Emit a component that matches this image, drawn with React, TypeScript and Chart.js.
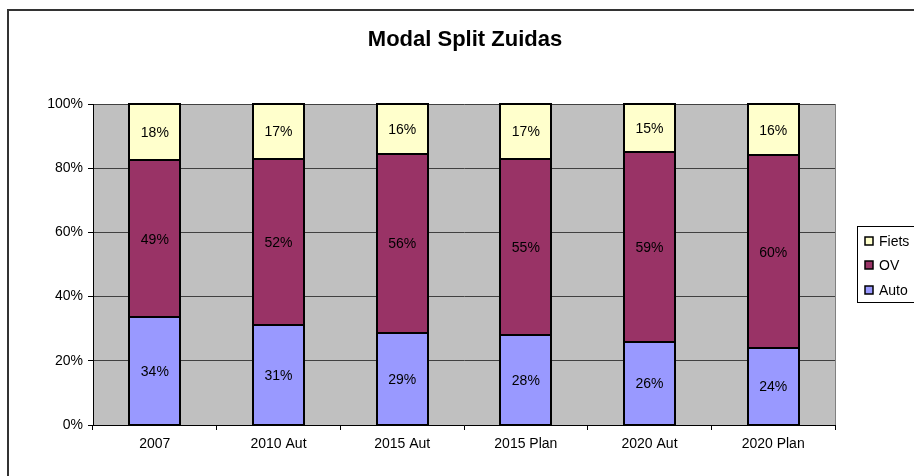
import React, { useEffect, useRef } from 'react';
import { Chart, registerables } from 'chart.js';

Chart.register(...registerables);

const categories = ['2007', '2010 Aut', '2015 Aut', '2015 Plan', '2020 Aut', '2020 Plan'];
const autoValues = [33.5, 31, 28.7, 28, 26, 24];
const ovValues = [49, 52, 55.8, 55, 59, 60];
const fietsValues = [17.5, 17, 15.5, 17, 15, 16];
const yTickValues = [0, 20, 40, 60, 80, 100];
const titleText = 'Modal Split Zuidas';
const seriesNames = ['Auto', 'OV', 'Fiets'];
const seriesColors = ['#9999FF', '#993366', '#FFFFCC'];

const FONT = '"Liberation Sans", Arial, sans-serif';

const plotBg = {
  id: 'plotBg',
  beforeDraw(chart: any) {
    const { ctx, chartArea: a } = chart;
    ctx.save();
    ctx.fillStyle = '#C0C0C0';
    ctx.fillRect(a.left, a.top, a.right - a.left, a.bottom - a.top);
    ctx.restore();
  },
  afterDatasetsDraw(chart: any) {
    const { ctx, chartArea: a } = chart;
    ctx.save();
    ctx.strokeStyle = '#808080';
    ctx.lineWidth = 1;
    ctx.beginPath();
    ctx.moveTo(a.right + 0.5, a.top);
    ctx.lineTo(a.right + 0.5, a.bottom);
    ctx.stroke();
    ctx.restore();
  },
};

const barOutlines = {
  id: 'barOutlines',
  afterDatasetsDraw(chart: any) {
    const { ctx } = chart;
    ctx.save();
    ctx.strokeStyle = '#000';
    ctx.lineWidth = 2;
    chart.data.datasets.forEach((_ds: any, di: number) => {
      const meta = chart.getDatasetMeta(di);
      meta.data.forEach((el: any) => {
        const l = Math.round(el.x - el.width / 2);
        const r = Math.round(el.x + el.width / 2);
        const t = Math.round(Math.min(el.y, el.base));
        const b = Math.round(Math.max(el.y, el.base));
        ctx.strokeRect(l, t, r - l, b - t);
      });
    });
    ctx.restore();
  },
};

const dataLabels = {
  id: 'dataLabels',
  afterDatasetsDraw(chart: any) {
    const { ctx } = chart;
    ctx.save();
    ctx.font = `14px ${FONT}`;
    ctx.fillStyle = '#000';
    ctx.textAlign = 'center';
    ctx.textBaseline = 'middle';
    chart.data.datasets.forEach((ds: any, di: number) => {
      const meta = chart.getDatasetMeta(di);
      meta.data.forEach((el: any, i: number) => {
        const v = ds.data[i];
        const y = (el.y + el.base) / 2;
        ctx.fillText(Math.round(v) + '%', el.x, y + 1);
      });
    });
    ctx.restore();
  },
};

const titleAndLegend = {
  id: 'titleAndLegend',
  afterDraw(chart: any) {
    const { ctx } = chart;
    ctx.save();
    ctx.font = `bold 22px ${FONT}`;
    ctx.fillStyle = '#000';
    ctx.textAlign = 'center';
    ctx.textBaseline = 'middle';
    ctx.fillText(titleText, 465, 40);

    // legend box
    ctx.strokeStyle = '#000';
    ctx.lineWidth = 1;
    ctx.strokeRect(857.5, 226.5, 120, 76);
    const order = [2, 1, 0];
    const ys = [241, 265, 290];
    ctx.font = `14px ${FONT}`;
    ctx.textAlign = 'left';
    order.forEach((si, k) => {
      const y = ys[k];
      ctx.fillStyle = seriesColors[si];
      ctx.fillRect(865, y - 4, 8, 8);
      ctx.strokeStyle = '#000';
      ctx.lineWidth = 1.5;
      ctx.strokeRect(865, y - 4, 8, 8);
      ctx.fillStyle = '#000';
      ctx.fillText(seriesNames[si], 879, y + 1);
    });
    ctx.restore();
  },
};

export default function App() {
  const ref = useRef<HTMLCanvasElement>(null);

  useEffect(() => {
    if (!ref.current) return;
    const valuesList = [autoValues, ovValues, fietsValues];
    const chart = new Chart(ref.current, {
      type: 'bar',
      data: {
        labels: categories,
        datasets: seriesNames.map((name, i) => ({
          label: name,
          data: valuesList[i],
          backgroundColor: seriesColors[i],
          borderWidth: 0,
          barPercentage: 0.41,
          categoryPercentage: 1,
        })),
      },
      options: {
        animation: false,
        responsive: false,
        maintainAspectRatio: false,
        layout: { padding: { left: 0, right: 79, top: 104, bottom: 0 } },
        plugins: {
          legend: { display: false },
          title: { display: false },
          tooltip: { enabled: false },
        },
        scales: {
          x: {
            stacked: true,
            afterFit(scale: any) {
              scale.height = 51;
            },
            grid: {
              display: true,
              drawOnChartArea: false,
              drawTicks: true,
              tickLength: 5,
              color: '#000',
              offset: true,
            },
            border: { display: true, color: '#000', width: 1 },
            ticks: {
              color: '#000',
              font: { family: FONT, size: 14 },
              padding: 6,
              maxRotation: 0,
              autoSkip: false,
            },
          },
          y: {
            stacked: true,
            min: 0,
            max: 100,
            afterFit(scale: any) {
              scale.width = 93;
            },
            afterBuildTicks(scale: any) {
              scale.ticks = yTickValues.map((v) => ({ value: v }));
            },
            grid: {
              color: '#404040',
              lineWidth: 1,
              drawTicks: true,
              tickLength: 5,
              tickColor: '#000',
            },
            border: { display: true, color: '#000', width: 1 },
            ticks: {
              color: '#000',
              font: { family: FONT, size: 14 },
              padding: 5,
              callback: (v: any) => v + '%',
            },
          },
        },
      },
      plugins: [plotBg, barOutlines, dataLabels, titleAndLegend],
    });
    return () => chart.destroy();
  }, []);

  return (
    <div
      style={{
        position: 'fixed',
        left: 0,
        top: 0,
        width: 914,
        height: 476,
        overflow: 'hidden',
        background: '#fff',
      }}
    >
      <canvas ref={ref} width={914} height={476} style={{ display: 'block', width: 914, height: 476 }} />
      <div
        style={{
          position: 'absolute',
          left: 7,
          top: 9,
          width: 1000,
          height: 1000,
          border: '2px solid #333',
          pointerEvents: 'none',
        }}
      />
    </div>
  );
}
